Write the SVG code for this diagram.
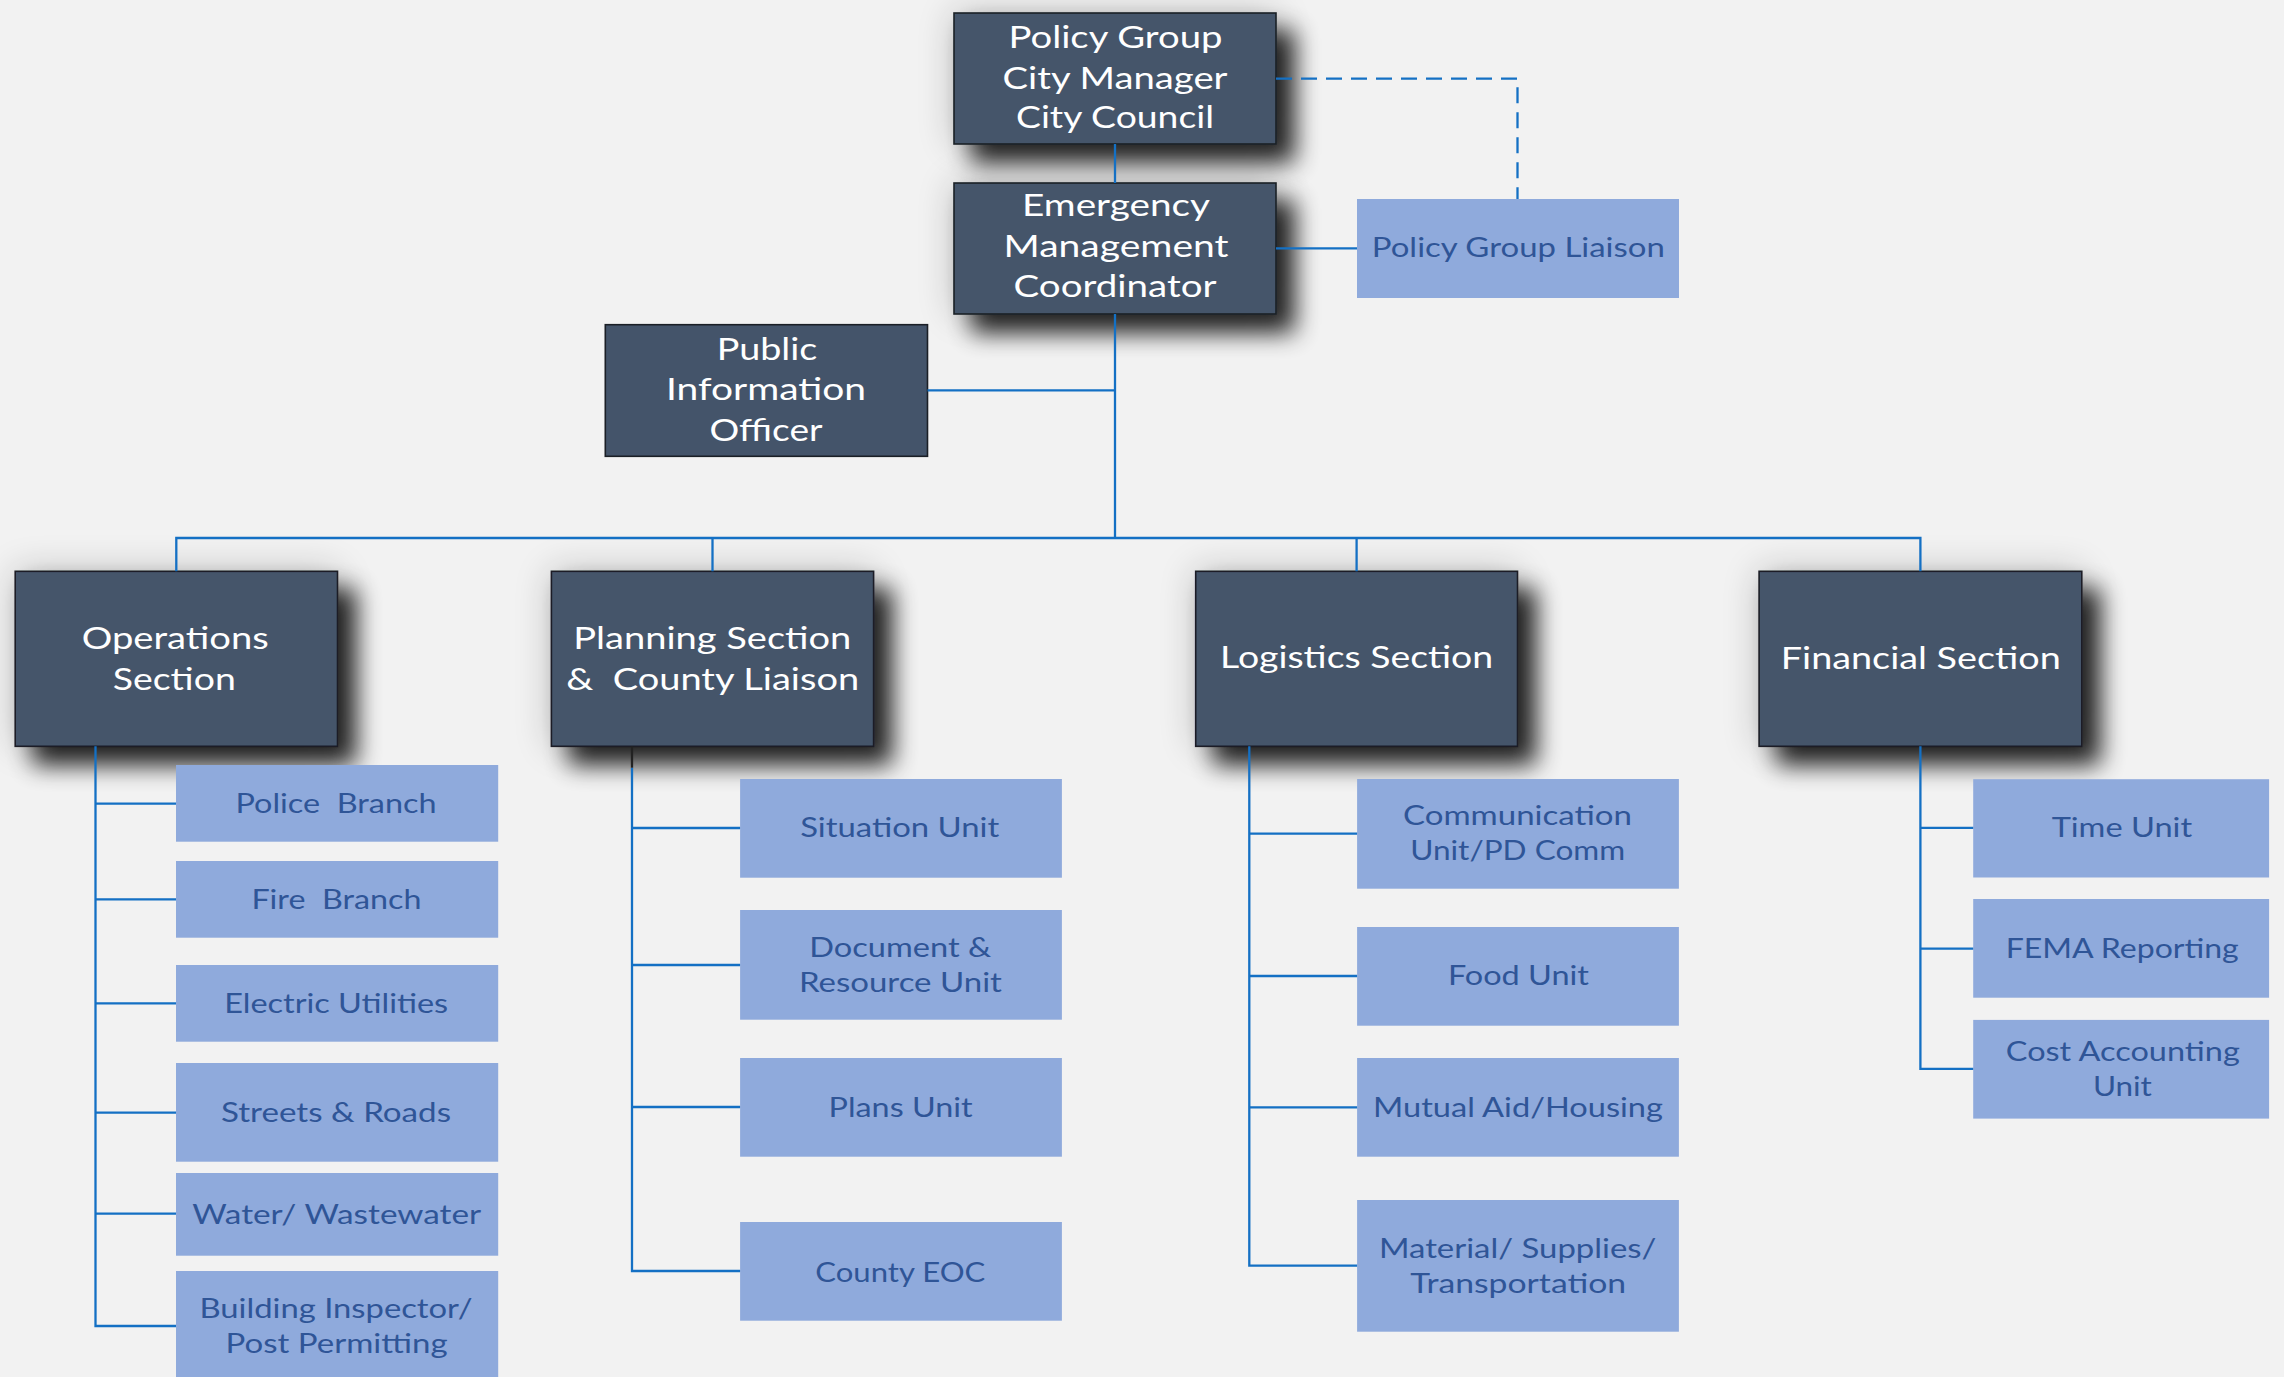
<svg xmlns="http://www.w3.org/2000/svg" width="2284" height="1377" viewBox="0 0 2284 1377">
<defs>
<filter id="sh" x="-35%" y="-35%" width="185%" height="200%">
<feGaussianBlur in="SourceAlpha" stdDeviation="18" result="g"/>
<feComponentTransfer in="g" result="g2"><feFuncA type="linear" slope="0.22"/></feComponentTransfer>
<feGaussianBlur in="SourceAlpha" stdDeviation="12" result="b"/>
<feOffset in="b" dx="18" dy="18" result="o"/>
<feComponentTransfer in="o" result="s"><feFuncA type="linear" slope="0.85"/></feComponentTransfer>
<feMerge><feMergeNode in="g2"/><feMergeNode in="s"/><feMergeNode in="SourceGraphic"/></feMerge>
</filter>
<style>
.dk{fill:#44546A;stroke:#1b1f26;stroke-width:1.6}
.lt{fill:#8FAADC}
.tw{font-family:Lato,"Liberation Sans",sans-serif;font-size:30px;fill:#FFFFFF;text-anchor:middle}
.tb{font-family:Lato,"Liberation Sans",sans-serif;font-size:26px;fill:#2F5597;text-anchor:middle}
.ln{fill:none;stroke:#1470C4;stroke-width:2.3}
.ds{fill:none;stroke:#1470C4;stroke-width:2.3;stroke-dasharray:16 9}
</style>
</defs>
<rect width="2284" height="1377" fill="#F2F2F2"/>

<g id="policy-group">
<rect class="dk" x="954" y="13" width="322" height="131" filter="url(#sh)"/>
<text class="tw" x="1115.5" y="48" textLength="214" lengthAdjust="spacingAndGlyphs">Policy Group</text>
<text class="tw" x="1115" y="88.5" textLength="225" lengthAdjust="spacingAndGlyphs">City Manager</text>
<text class="tw" x="1115" y="128" textLength="198" lengthAdjust="spacingAndGlyphs">City Council</text>
</g>

<g id="emergency-management-coordinator">
<rect class="dk" x="954" y="183" width="322" height="131" filter="url(#sh)"/>
<text class="tw" x="1116" y="216" textLength="188" lengthAdjust="spacingAndGlyphs">Emergency</text>
<text class="tw" x="1116" y="257" textLength="225" lengthAdjust="spacingAndGlyphs">Management</text>
<text class="tw" x="1115" y="297" textLength="203" lengthAdjust="spacingAndGlyphs">Coordinator</text>
</g>

<g id="policy-group-liaison">
<rect class="lt" x="1357" y="199" width="322" height="99"/>
<text class="tb" x="1518.3" y="257" textLength="293" lengthAdjust="spacingAndGlyphs">Policy Group Liaison</text>
</g>

<g id="public-information-officer">
<rect class="dk" x="605.3" y="324.7" width="322.2" height="131.6"/>
<text class="tw" x="767" y="360" textLength="100.6" lengthAdjust="spacingAndGlyphs">Public</text>
<text class="tw" x="766" y="400" textLength="200" lengthAdjust="spacingAndGlyphs">Information</text>
<text class="tw" x="766" y="441" textLength="113" lengthAdjust="spacingAndGlyphs">Officer</text>
</g>

<g id="operations-section">
<rect class="dk" x="15.2" y="571.3" width="322.3" height="175" filter="url(#sh)"/>
<text class="tw" x="175.3" y="648.7" textLength="187" lengthAdjust="spacingAndGlyphs">Operations</text>
<text class="tw" x="174.3" y="690" textLength="123" lengthAdjust="spacingAndGlyphs">Section</text>
</g>

<g id="planning-section">
<rect class="dk" x="551.4" y="571.3" width="322.2" height="175" filter="url(#sh)"/>
<text class="tw" x="712.3" y="649" textLength="278" lengthAdjust="spacingAndGlyphs">Planning Section</text>
<text class="tw" x="712.7" y="690" textLength="293" lengthAdjust="spacingAndGlyphs">&amp;&#160; County Liaison</text>
</g>

<g id="logistics-section">
<rect class="dk" x="1195.7" y="571.3" width="321.8" height="175" filter="url(#sh)"/>
<text class="tw" x="1356.6" y="668.3" textLength="273" lengthAdjust="spacingAndGlyphs">Logistics Section</text>
</g>

<g id="financial-section">
<rect class="dk" x="1759.1" y="571.3" width="322.7" height="175" filter="url(#sh)"/>
<text class="tw" x="1920.8" y="669" textLength="280" lengthAdjust="spacingAndGlyphs">Financial Section</text>
</g>

<g id="police-branch">
<rect class="lt" x="176" y="765" width="322.2" height="76.7"/>
<text class="tb" x="336" y="812.7" textLength="201" lengthAdjust="spacingAndGlyphs">Police&#160; Branch</text>
</g>
<g id="fire-branch">
<rect class="lt" x="176" y="861" width="322.2" height="76.7"/>
<text class="tb" x="336.4" y="908.7" textLength="170" lengthAdjust="spacingAndGlyphs">Fire&#160; Branch</text>
</g>
<g id="electric-utilities">
<rect class="lt" x="176" y="965" width="322.2" height="76.7"/>
<text class="tb" x="336.2" y="1013.3" textLength="224" lengthAdjust="spacingAndGlyphs">Electric Utilities</text>
</g>
<g id="streets-roads">
<rect class="lt" x="176" y="1063" width="322.2" height="98.7"/>
<text class="tb" x="336" y="1121.7" textLength="230" lengthAdjust="spacingAndGlyphs">Streets &amp; Roads</text>
</g>
<g id="water-wastewater">
<rect class="lt" x="176" y="1173" width="322.2" height="82.7"/>
<text class="tb" x="336.7" y="1224" textLength="289" lengthAdjust="spacingAndGlyphs">Water/ Wastewater</text>
</g>
<g id="building-inspector">
<rect class="lt" x="176" y="1271" width="322.2" height="110"/>
<text class="tb" x="336" y="1317.7" textLength="273" lengthAdjust="spacingAndGlyphs">Building Inspector/</text>
<text class="tb" x="336.6" y="1353.3" textLength="222" lengthAdjust="spacingAndGlyphs">Post Permitting</text>
</g>

<g id="situation-unit">
<rect class="lt" x="740.1" y="779" width="321.8" height="98.7"/>
<text class="tb" x="899.7" y="836.7" textLength="199" lengthAdjust="spacingAndGlyphs">Situation Unit</text>
</g>
<g id="document-resource-unit">
<rect class="lt" x="740.1" y="910" width="321.8" height="109.7"/>
<text class="tb" x="900.2" y="956.7" textLength="182" lengthAdjust="spacingAndGlyphs">Document &amp;</text>
<text class="tb" x="900.4" y="992.3" textLength="203" lengthAdjust="spacingAndGlyphs">Resource Unit</text>
</g>
<g id="plans-unit">
<rect class="lt" x="740.1" y="1058" width="321.8" height="98.7"/>
<text class="tb" x="900.6" y="1116.7" textLength="144" lengthAdjust="spacingAndGlyphs">Plans Unit</text>
</g>
<g id="county-eoc">
<rect class="lt" x="740.1" y="1222" width="321.8" height="98.7"/>
<text class="tb" x="900.3" y="1281.7" textLength="170" lengthAdjust="spacingAndGlyphs">County EOC</text>
</g>

<g id="communication-unit">
<rect class="lt" x="1357.1" y="779" width="321.8" height="109.7"/>
<text class="tb" x="1517.5" y="825" textLength="229" lengthAdjust="spacingAndGlyphs">Communication</text>
<text class="tb" x="1517.7" y="860" textLength="215" lengthAdjust="spacingAndGlyphs">Unit/PD Comm</text>
</g>
<g id="food-unit">
<rect class="lt" x="1357.1" y="927" width="321.8" height="98.7"/>
<text class="tb" x="1518.4" y="985" textLength="141" lengthAdjust="spacingAndGlyphs">Food Unit</text>
</g>
<g id="mutual-aid-housing">
<rect class="lt" x="1357.1" y="1058" width="321.8" height="98.7"/>
<text class="tb" x="1518" y="1117.3" textLength="290" lengthAdjust="spacingAndGlyphs">Mutual Aid/Housing</text>
</g>
<g id="material-supplies-transportation">
<rect class="lt" x="1357.1" y="1200" width="321.8" height="131.7"/>
<text class="tb" x="1517.7" y="1257.7" textLength="277.5" lengthAdjust="spacingAndGlyphs">Material/ Supplies/</text>
<text class="tb" x="1518.2" y="1292.7" textLength="216" lengthAdjust="spacingAndGlyphs">Transportation</text>
</g>

<g id="time-unit">
<rect class="lt" x="1973.2" y="779.2" width="295.9" height="98.3"/>
<text class="tb" x="2121.9" y="837.4" textLength="140.5" lengthAdjust="spacingAndGlyphs">Time Unit</text>
</g>
<g id="fema-reporting">
<rect class="lt" x="1973.2" y="899" width="295.9" height="98.7"/>
<text class="tb" x="2122.2" y="957.9" textLength="233" lengthAdjust="spacingAndGlyphs">FEMA Reporting</text>
</g>
<g id="cost-accounting-unit">
<rect class="lt" x="1973.2" y="1019.9" width="295.9" height="98.7"/>
<text class="tb" x="2122.8" y="1061.2" textLength="234" lengthAdjust="spacingAndGlyphs">Cost Accounting</text>
<text class="tb" x="2122.4" y="1095.7" textLength="59" lengthAdjust="spacingAndGlyphs">Unit</text>
</g>

<g id="connectors">
<path class="ln" d="M1115,144 V183"/>
<path class="ln" d="M1115,314 V538"/>
<path class="ln" d="M927.5,390.3 H1115"/>
<path class="ln" d="M1276,248.3 H1357"/>
<path class="ds" d="M1276,78.7 H1517.5 V199"/>
<path class="ln" d="M176.3,571.3 V538 H1920.4 V571.3"/>
<path class="ln" d="M712.5,538 V571.3"/>
<path class="ln" d="M1356.6,538 V571.3"/>
<path class="ln" d="M95.5,746.3 V1326 H176"/>
<path class="ln" d="M95.5,803.7 H176 M95.5,899.3 H176 M95.5,1003.3 H176 M95.5,1112.7 H176 M95.5,1213.7 H176"/>
<path class="ln" d="M632,767.7 V1271 H740.1"/>
<path fill="none" stroke="#222222" stroke-width="2.3" d="M632,746.3 V767.7"/>
<path class="ln" d="M632,828 H740.1 M632,965 H740.1 M632,1107 H740.1"/>
<path class="ln" d="M1249.3,746.3 V1265.7 H1357.1"/>
<path class="ln" d="M1249.3,833.7 H1357.1 M1249.3,976 H1357.1 M1249.3,1107.3 H1357.1"/>
<path class="ln" d="M1920.4,746.3 V1068.9 H1973.2"/>
<path class="ln" d="M1920.4,827.8 H1973.2 M1920.4,948.7 H1973.2"/>
</g>
</svg>
